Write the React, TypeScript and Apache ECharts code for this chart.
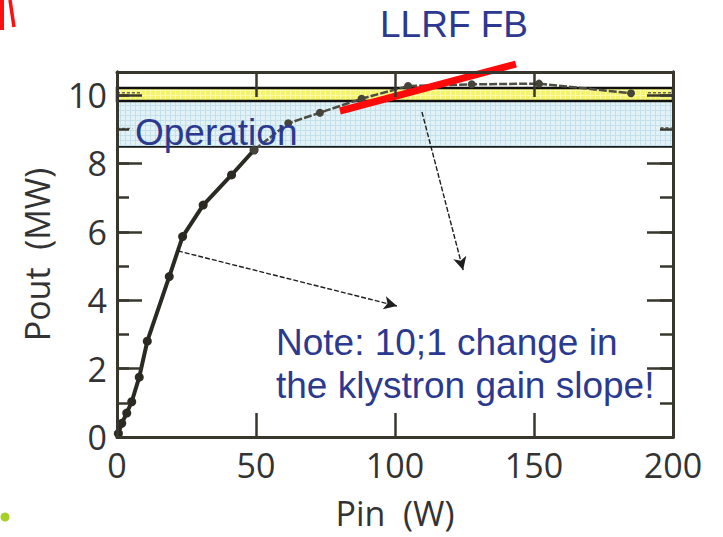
import React, { useEffect, useRef } from "react";
import * as echarts from "echarts";

// ---- data ----
const pinLow = [0.5, 1.7, 3.5, 5.3, 8.0, 10.9, 18.8, 23.6, 31.0, 41.2, 49.3];
const poutLow = [0.1, 0.4, 0.7, 1.03, 1.75, 2.8, 4.69, 5.86, 6.78, 7.66, 8.39];
const pinSat = [49.3, 61.6, 73, 88, 104.7, 127.6, 151.8, 184.9];
const poutSat = [8.39, 9.17, 9.48, 9.89, 10.26, 10.31, 10.33, 10.05];
const fbPin = [80.2, 143.5];
const fbPout = [9.53, 10.9];
const xTickValues = [0, 50, 100, 150, 200];
const yTickValues = [0, 2, 4, 6, 8, 10];
const operationBand = [8.48, 9.82];
const fbBand = [9.82, 10.2];
const arrowFrom = [
  [67.6, 9.91],
  [109.7, 9.5],
  [21.9, 5.44],
];
const arrowTo = [
  [95.7, 11.55],
  [124.5, 4.88],
  [100.7, 3.83],
];
const dashMarks = [
  [[0, 10.06], [9, 10.06]],
  [[191, 10.06], [200, 10.06]],
  [[0, 9.02], [5.5, 9.02]],
  [[195.5, 9.04], [199.5, 9.04]],
];
const xName = "Pin\u00a0\u00a0(W)";
const yName = "Pout\u00a0\u00a0(MW)";
const noteLines = ["Note: 10;1 change in", "the klystron gain slope!"];

const zip = (a: number[], b: number[]) => a.map((v, i) => [v, b[i]]);

const gridPattern = (bg: string, line: string) => {
  const svg = `<svg xmlns='http://www.w3.org/2000/svg' width='5' height='5'><rect width='5' height='5' fill='${bg}'/><path d='M0 0.5H5M0.5 0V5' stroke='${line}' stroke-width='1'/></svg>`;
  return {
    image: "data:image/svg+xml;charset=utf-8," + encodeURIComponent(svg),
    repeat: "repeat",
    imageWidth: 5,
    imageHeight: 5,
  };
};

const axisColor = "#38372e";
const tickFont = { fontFamily: "Open Sans", fontSize: 34, color: "#333333" };
const noteFont = "37px 'Liberation Sans', Arial, sans-serif";
const noteColor = "#2b3990";

export default function App() {
  const ref = useRef<HTMLDivElement>(null);
  useEffect(() => {
    const chart = echarts.init(ref.current!, null, { renderer: "svg" });
    const yMax = 10.67;
    const yAxisBase = (pos: string, interval: number, len: number, labels: boolean) => ({
      type: "value",
      position: pos,
      min: 0,
      max: yMax,
      interval,
      axisLine: { show: true, onZero: false, lineStyle: { color: axisColor, width: 3 } },
      axisTick: { show: true, inside: true, length: len, lineStyle: { color: axisColor, width: 2.5 } },
      axisLabel: labels
        ? {
            ...tickFont,
            margin: 10,
            formatter: (v: number) => (yTickValues.includes(v) ? String(v) : ""),
          }
        : { show: false },
      splitLine: { show: false },
      z: 5,
    });
    const option: any = {
      animation: false,
      backgroundColor: "#ffffff",
      grid: { left: 117, right: 50, top: 72, bottom: 100, containLabel: false },
      xAxis: [
        {
          type: "value",
          position: "bottom",
          min: 0,
          max: 200,
          interval: 50,
          axisLine: { show: true, onZero: false, lineStyle: { color: axisColor, width: 3 } },
          axisTick: { show: true, inside: true, length: 24, lineStyle: { color: axisColor, width: 2.5 } },
          axisLabel: {
            ...tickFont,
            margin: 11,
            formatter: (v: number) => (xTickValues.includes(v) ? String(v) : ""),
          },
          splitLine: { show: false },
          name: xName,
          nameLocation: "middle",
          nameGap: 59,
          nameTextStyle: { ...tickFont, fontSize: 34 },
          z: 5,
        },
        {
          type: "value",
          position: "top",
          min: 0,
          max: 200,
          interval: 50,
          axisLine: { show: true, onZero: false, lineStyle: { color: axisColor, width: 3 } },
          axisTick: { show: true, inside: true, length: 25, lineStyle: { color: axisColor, width: 2.5 } },
          axisLabel: { show: false },
          splitLine: { show: false },
          z: 5,
        },
      ],
      yAxis: [
        {
          ...yAxisBase("left", 2, 25, true),
          name: yName,
          nameLocation: "middle",
          nameGap: 63,
          nameRotate: 90,
          nameTextStyle: { ...tickFont, fontSize: 34 },
        },
        yAxisBase("left", 1, 12, false),
        yAxisBase("right", 2, 26, false),
        yAxisBase("right", 1, 13, false),
      ],
      series: [
        {
          type: "line",
          xAxisIndex: 0,
          yAxisIndex: 0,
          data: zip(pinLow, poutLow),
          symbol: "circle",
          symbolSize: 9,
          itemStyle: { color: "#2b2a22" },
          lineStyle: { color: "#2b2a22", width: 4 },
          z: 3,
          markArea: {
            silent: true,
            data: [
              [
                {
                  yAxis: operationBand[0],
                  itemStyle: {
                    color: gridPattern("#e3f2f7", "#c4e0ea"),
                    borderColor: "#1a1a1a",
                    borderWidth: 1.8,
                  },
                },
                { yAxis: operationBand[1] },
              ],
              [
                {
                  yAxis: fbBand[0],
                  itemStyle: {
                    color: gridPattern("#f4f46c", "#f9f9a8"),
                    borderColor: "#111111",
                    borderWidth: 2.5,
                  },
                },
                { yAxis: fbBand[1] },
              ],
            ],
          },
        },
        {
          type: "line",
          data: zip(pinSat, poutSat),
          symbol: "circle",
          symbolSize: 8,
          itemStyle: { color: "#44443a" },
          lineStyle: { color: "#4d4d44", width: 2.5, type: [8, 2] },
          z: 3,
        },
        ...dashMarks.map((seg) => ({
          type: "line",
          data: seg,
          symbol: "none",
          lineStyle: { color: "#6a6a5c", width: 1.5, type: [3, 2] },
          z: 3,
        })),
        {
          type: "line",
          data: zip(fbPin, fbPout),
          symbol: "none",
          clip: false,
          lineStyle: { color: "#ff0a0a", width: 7, cap: "butt" },
          z: 4,
          markLine: {
            silent: true,
            symbol: ["none", "arrow"],
            symbolSize: [10, 13],
            label: { show: false },
            lineStyle: { color: "#1e1e1e", width: 1.4, type: [5, 2] },
            data: arrowFrom.map((f, i) => [{ coord: f }, { coord: arrowTo[i] }]),
          },
        },
      ],
      graphic: [
        {
          type: "text",
          x: 380,
          y: 24,
          style: { text: "LLRF FB", font: noteFont, fill: noteColor, verticalAlign: "middle" },
          z: 10,
        },
        {
          type: "text",
          x: 135,
          y: 132,
          style: { text: "Operation", font: noteFont, fill: noteColor, verticalAlign: "middle" },
          z: 10,
        },
        {
          type: "text",
          x: 276,
          y: 342,
          style: { text: noteLines[0], font: noteFont, fill: noteColor, verticalAlign: "middle" },
          z: 10,
        },
        {
          type: "text",
          x: 276,
          y: 385,
          style: { text: noteLines[1], font: noteFont, fill: noteColor, verticalAlign: "middle" },
          z: 10,
        },
        {
          type: "line",
          shape: { x1: 2, y1: 0, x2: 2, y2: 30 },
          style: { stroke: "#ff1010", lineWidth: 4 },
          z: 10,
        },
        {
          type: "line",
          shape: { x1: 10, y1: 0, x2: 14, y2: 27 },
          style: { stroke: "#ff1010", lineWidth: 3.5 },
          z: 10,
        },
        {
          type: "circle",
          shape: { cx: 5, cy: 517, r: 4.5 },
          style: { fill: "#a6cf2a" },
          z: 10,
        },
      ],
    };
    chart.setOption(option);
    return () => chart.dispose();
  }, []);
  return (
    <div
      ref={ref}
      style={{ width: 723, height: 537, position: "absolute", left: 0, top: 0 }}
    />
  );
}
